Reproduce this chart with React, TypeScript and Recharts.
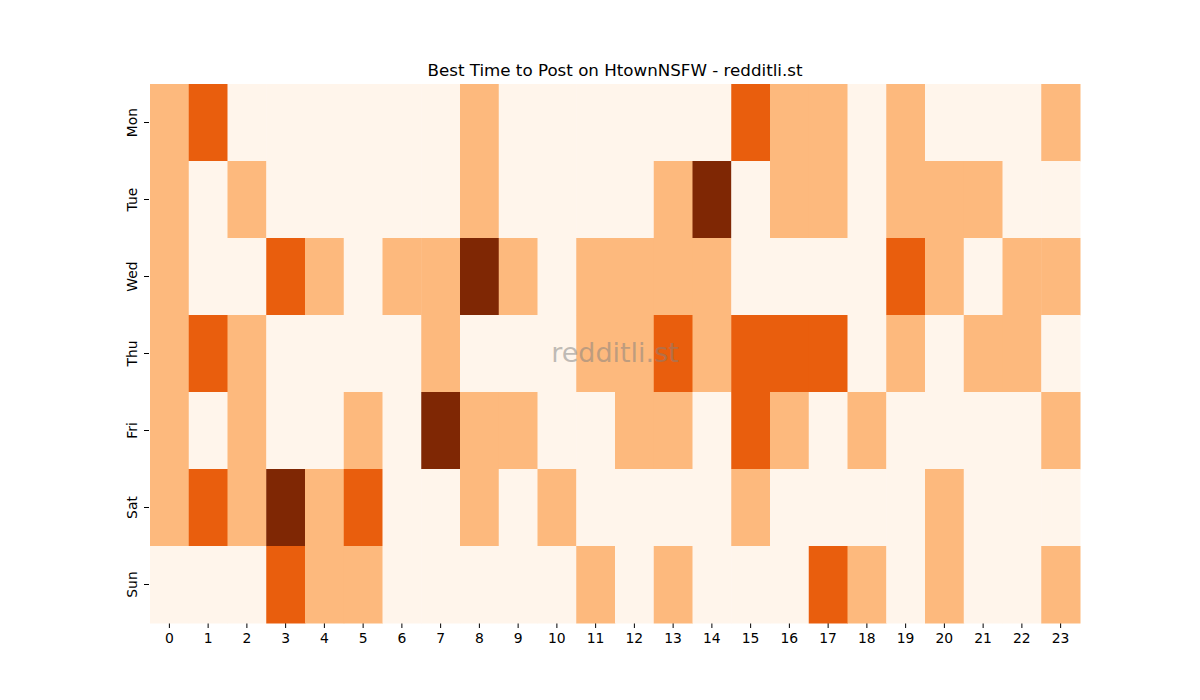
import React from "react";
import { ScatterChart, Scatter, XAxis, YAxis } from "recharts";

const days = ["Mon", "Tue", "Wed", "Thu", "Fri", "Sat", "Sun"];
const hours = Array.from({ length: 24 }, (_, i) => i);

// activity level per hour, 0 = low .. 3 = best
const mon = [1, 2, 0, 0, 0, 0, 0, 0, 1, 0, 0, 0, 0, 0, 0, 2, 1, 1, 0, 1, 0, 0, 0, 1];
const tue = [1, 0, 1, 0, 0, 0, 0, 0, 1, 0, 0, 0, 0, 1, 3, 0, 1, 1, 0, 1, 1, 1, 0, 0];
const wed = [1, 0, 0, 2, 1, 0, 1, 1, 3, 1, 0, 1, 1, 1, 1, 0, 0, 0, 0, 2, 1, 0, 1, 1];
const thu = [1, 2, 1, 0, 0, 0, 0, 1, 0, 0, 0, 1, 1, 2, 1, 2, 2, 2, 0, 1, 0, 1, 1, 0];
const fri = [1, 0, 1, 0, 0, 1, 0, 3, 1, 1, 0, 0, 1, 1, 0, 2, 1, 0, 1, 0, 0, 0, 0, 1];
const sat = [1, 2, 1, 3, 1, 2, 0, 0, 1, 0, 1, 0, 0, 0, 0, 1, 0, 0, 0, 0, 1, 0, 0, 0];
const sun = [0, 0, 0, 2, 1, 1, 0, 0, 0, 0, 0, 1, 0, 1, 0, 0, 0, 2, 1, 0, 1, 0, 0, 1];

const levels = [mon, tue, wed, thu, fri, sat, sun];
const palette = ["#fff5eb", "#fdb97d", "#e95e0d", "#7f2704"];

const W = 1200;
const H = 700;
const margin = { top: 84, right: 120, bottom: 47, left: 110 };
const yAxisWidth = 40;
const xAxisHeight = 30;
const plotW = W - margin.left - margin.right - yAxisWidth;
const plotH = H - margin.top - margin.bottom - xAxisHeight;
const cellW = plotW / hours.length;
const cellH = plotH / days.length;
const centerX = margin.left + yAxisWidth + plotW / 2;

const cells = levels.flatMap((row, d) =>
  row.map((v, h) => ({ hour: h, day: d, level: v }))
);

const font = "DejaVu Sans, sans-serif";

function Cell(props: any) {
  const { cx, cy, payload } = props;
  return (
    <rect
      x={cx - cellW / 2}
      y={cy - cellH / 2}
      width={cellW + 0.5}
      height={cellH + 0.5}
      fill={palette[payload.level]}
    />
  );
}

function DayTick(props: any) {
  const { x, y, payload } = props;
  const tx = x - 5;
  return (
    <g>
      <line x1={x + 2} x2={x + 7} y1={y} y2={y} stroke="#000" strokeWidth={1} />
      <text
        x={tx}
        y={y}
        transform={`rotate(-90 ${tx} ${y})`}
        textAnchor="middle"
        fontFamily={font}
        fontSize={13.9}
        fill="#000"
      >
        {days[payload.value]}
      </text>
    </g>
  );
}

export default function App() {
  return (
    <div style={{ position: "absolute", left: 0, top: 0, width: W, height: H, background: "#fff" }}>
      <ScatterChart width={W} height={H} margin={margin}>
        <XAxis
          type="number"
          dataKey="hour"
          domain={[-0.5, 23.5]}
          ticks={hours}
          interval={0}
          height={xAxisHeight}
          axisLine={false}
          tickSize={5}
          tickMargin={5}
          tickLine={{ stroke: "#000" }}
          tick={{ fill: "#000", fontSize: 13.9, fontFamily: font }}
        />
        <YAxis
          type="number"
          dataKey="day"
          domain={[-0.5, 6.5]}
          ticks={[0, 1, 2, 3, 4, 5, 6]}
          interval={0}
          reversed
          width={yAxisWidth}
          axisLine={false}
          tickLine={false}
          tick={<DayTick />}
        />
        <Scatter data={cells} shape={<Cell />} isAnimationActive={false} />
        <text
          x={centerX}
          y={76}
          textAnchor="middle"
          fontFamily={font}
          fontSize={16.7}
          fill="#000"
        >
          Best Time to Post on HtownNSFW - redditli.st
        </text>
      </ScatterChart>
      <svg
        width={W}
        height={H}
        style={{ position: "absolute", left: 0, top: 0, pointerEvents: "none" }}
      >
        <text
          x={centerX}
          y={362}
          textAnchor="middle"
          fontFamily={font}
          fontSize={27}
          fill="#808080"
          fillOpacity={0.5}
        >
          redditli.st
        </text>
      </svg>
    </div>
  );
}
